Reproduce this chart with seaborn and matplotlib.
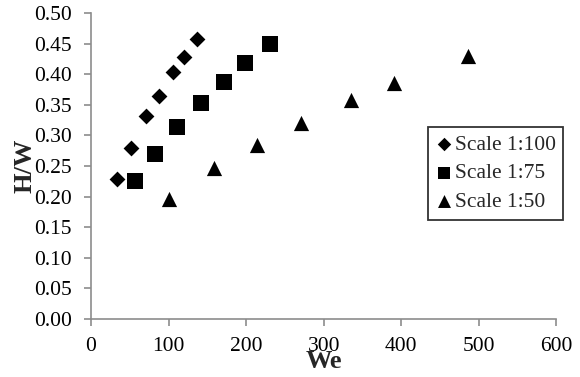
import numpy as np
import pandas as pd
import matplotlib
matplotlib.use("Agg")
import matplotlib.pyplot as plt
import seaborn as sns

# Data
we_100 = [33, 51, 71, 87, 106, 120, 137]
hw_100 = [0.229, 0.279, 0.332, 0.364, 0.403, 0.428, 0.458]

we_75 = [57, 83, 111, 142, 171, 199, 231]
hw_75 = [0.225, 0.270, 0.313, 0.353, 0.388, 0.418, 0.450]

we_50 = [101, 159, 214, 271, 335, 391, 486]
hw_50 = [0.196, 0.246, 0.284, 0.321, 0.358, 0.386, 0.430]

labels = ["Scale 1:100", "Scale 1:75", "Scale 1:50"]
markers = ["D", "s", "^"]
sizes = [65, 120, 120]

df = pd.concat([
    pd.DataFrame({"We": we_100, "H/W": hw_100, "Scale": labels[0]}),
    pd.DataFrame({"We": we_75, "H/W": hw_75, "Scale": labels[1]}),
    pd.DataFrame({"We": we_50, "H/W": hw_50, "Scale": labels[2]}),
])

sns.set_theme(style="white")
plt.rcParams["font.family"] = ["Liberation Serif", "DejaVu Serif"]

fig = plt.figure(figsize=(5.8, 3.77), dpi=100)
ax = fig.add_axes([0.157, 0.154, 0.802, 0.8115])

for lab, mk, sz in zip(labels, markers, sizes):
    sns.scatterplot(data=df[df["Scale"] == lab], x="We", y="H/W", marker=mk,
                    s=sz, color="black", edgecolor="black", linewidth=0,
                    label=lab, ax=ax)

ax.set_xlim(0, 600)
ax.set_ylim(0, 0.5)
ax.set_xticks(np.arange(0, 601, 100))
ax.set_yticks(np.arange(0, 0.501, 0.05))
ax.set_yticklabels([f"{v:.2f}" for v in np.arange(0, 0.501, 0.05)])

for side in ["top", "right"]:
    ax.spines[side].set_visible(False)
for side in ["left", "bottom"]:
    ax.spines[side].set_color("#8c8c8c")
    ax.spines[side].set_linewidth(1.2)
ax.tick_params(axis="both", direction="out", length=5, width=1.2,
               color="#8c8c8c", labelsize=15.5, labelcolor="black",
               left=True, bottom=True)
ax.tick_params(axis="x", pad=8)
ax.tick_params(axis="y", pad=9)

ax.set_xlabel("We", fontsize=19, fontweight="bold", labelpad=-4)
ax.set_ylabel("H/W", fontsize=19, fontweight="bold", labelpad=-2)

leg = ax.legend(loc="upper right", bbox_to_anchor=(0.971, 0.663),
                bbox_transform=fig.transFigure, frameon=True, fancybox=False,
                fontsize=15.5, handlelength=0.8, handletextpad=0.1,
                borderpad=0.35, labelspacing=0.4, markerscale=0.85,
                borderaxespad=0)
leg.get_frame().set_edgecolor("black")
leg.get_frame().set_linewidth(1.3)

fig.savefig("out.png", dpi=100)
